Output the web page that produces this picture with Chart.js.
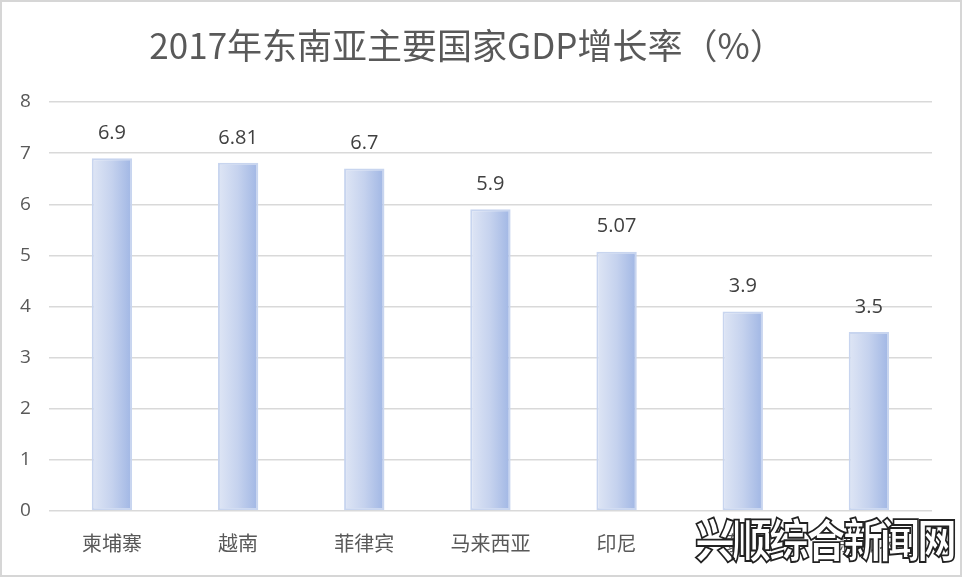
<!DOCTYPE html>
<html>
<head>
<meta charset="utf-8">
<script src="https://cdn.jsdelivr.net/npm/chart.js@4"></script>
<style>
  html, body { margin: 0; padding: 0; background: #fff; }
  #wrap {
    position: relative;
    width: 962px; height: 577px;
    box-sizing: border-box;
    border: 2px solid #d6d6d6;
  }
  #mark {
    position: absolute; right: 6px; bottom: 4px;
    font-family: "Noto Sans CJK SC", sans-serif;
    font-weight: 900; font-size: 40px; letter-spacing: -3px;
    transform: scaleY(1.15); transform-origin: bottom right;
    color: #fff; -webkit-text-stroke: 1.6px #222;
  }
</style>
</head>
<body>
<div id="wrap">
  <canvas id="chart" width="958" height="573"></canvas>
  <div id="mark">兴顺综合新闻网</div>
</div>
<script>
const countries = ["柬埔寨", "越南", "菲律宾", "马来西亚", "印尼", "泰国", "新加坡"];
const growth = [6.9, 6.81, 6.7, 5.9, 5.07, 3.9, 3.5];
const growthLabels = ["6.9", "6.81", "6.7", "5.9", "5.07", "3.9", "3.5"];

const BAR_PCT = 0.32;

// horizontal gradient on every bar
function barFill(ctx) {
    const chart = ctx.chart;
    const x = chart.scales.x;
    if (!x || !chart.chartArea) return "#b8c8ea";
    const cx = x.getPixelForValue(ctx.dataIndex);
    const w = (chart.chartArea.right - chart.chartArea.left) / countries.length * BAR_PCT;
    const g = chart.ctx.createLinearGradient(cx - w / 2, 0, cx + w / 2, 0);
    g.addColorStop(0, "#dfe6f5");
    g.addColorStop(0.5, "#c5d2ee");
    g.addColorStop(1, "#a0b6e4");
    return g;
}

// value labels on top of bars
const valueLabels = {
    id: "valueLabels",
    afterDatasetsDraw(chart) {
        const c = chart.ctx;
        const meta = chart.getDatasetMeta(0);
        c.save();
        c.font = "20px 'Open Sans', sans-serif";
        c.fillStyle = "#404040";
        c.textAlign = "center";
        c.textBaseline = "middle";
        meta.data.forEach((bar, i) => {
            c.fillText(growthLabels[i], bar.x, bar.y - 25);
        });
        c.restore();
    }
};

new Chart(document.getElementById("chart"), {
    type: "bar",
    data: {
        labels: countries,
        datasets: [{
            data: growth,
            backgroundColor: barFill,
            borderColor: "#c8d5ef",
            borderWidth: 2,
            borderSkipped: false,
            barPercentage: BAR_PCT,
            categoryPercentage: 1
        }]
    },
    options: {
        responsive: false,
        animation: false,
        layout: { padding: { left: 0, right: 28, top: 0, bottom: 8 } },
        plugins: {
            legend: { display: false },
            tooltip: { enabled: false },
            title: {
                display: true,
                text: "2017年东南亚主要国家GDP增长率（%）",
                color: "#595959",
                font: { family: "'Noto Sans CJK SC', sans-serif", size: 35, weight: "normal" },
                padding: { top: 23, bottom: 35 }
            }
        },
        scales: {
            x: {
                grid: { display: false },
                border: { display: false },
                ticks: {
                    color: "#595959",
                    font: { family: "'Noto Sans CJK SC', sans-serif", size: 20 },
                    padding: 12
                }
            },
            y: {
                min: 0, max: 8,
                ticks: {
                    stepSize: 1,
                    color: "#595959",
                    font: { family: "'Open Sans', sans-serif", size: 19 },
                    padding: 18
                },
                grid: { color: "#d9d9d9", lineWidth: 1.5, drawTicks: false },
                border: { display: false }
            }
        }
    },
    plugins: [valueLabels]
});
</script>
</body>
</html>
